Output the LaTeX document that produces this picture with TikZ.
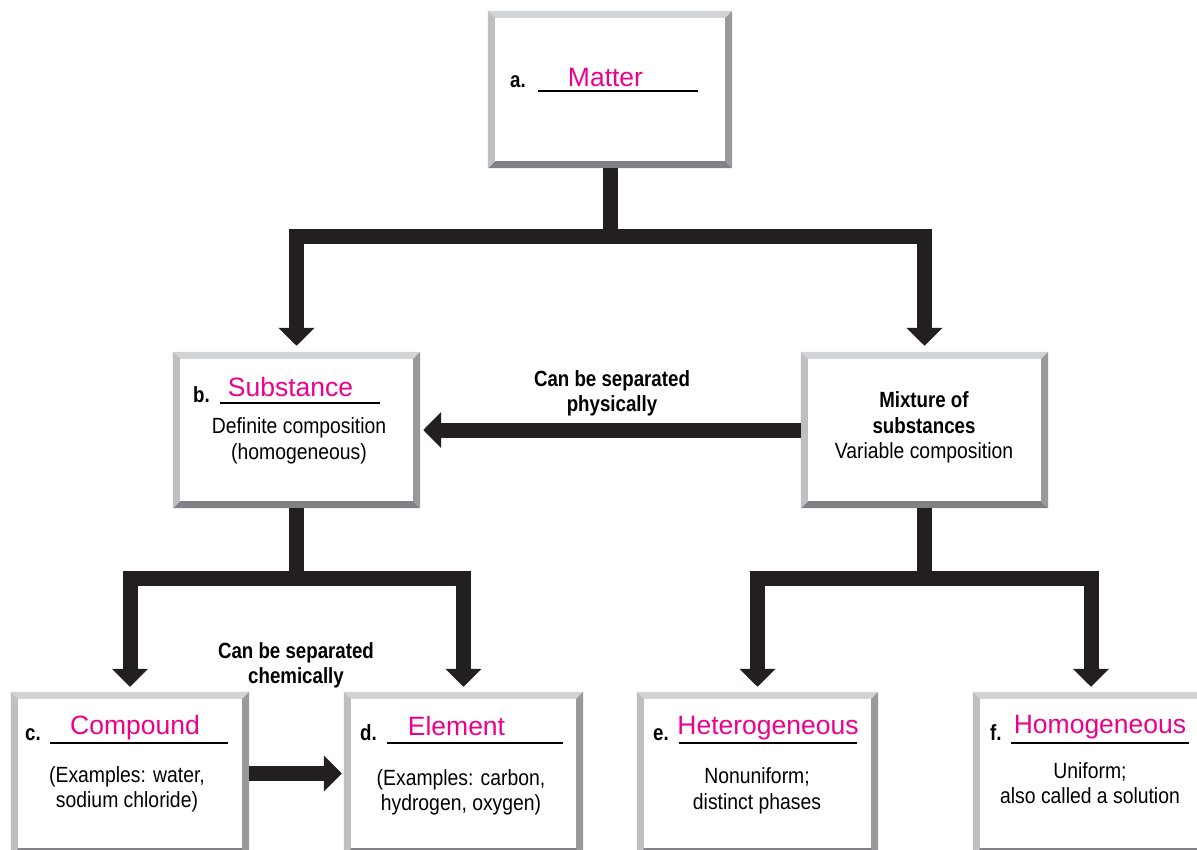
\documentclass[tikz,border=0pt]{standalone}
\usepackage{fontspec}
\newfontfamily\condf[FakeStretch=0.88, BoldFeatures={FakeStretch=0.85}]{Liberation Sans}
\newfontfamily\answf{Liberation Sans}
\usetikzlibrary{arrows.meta}

\definecolor{bevtop}{RGB}{210,211,213}
\definecolor{bevleft}{RGB}{190,191,194}
\definecolor{bevright}{RGB}{152,153,156}
\definecolor{bevbot}{RGB}{128,130,133}
\definecolor{arrowc}{RGB}{35,31,32}
\definecolor{answpink}{RGB}{236,0,140}

\tikzset{
  panel/.style={rectangle, fill=white, inner sep=0pt},
  conn/.style={line width=15pt, draw=arrowc, -{Triangle[width=35pt,length=18pt]}},
  tag/.style={font=\condf\bfseries\fontsize{22}{25.5}\selectfont, inner sep=0pt, anchor=base west},
  answer/.style={font=\answf\fontsize{26.5}{30}\selectfont, text=answpink, inner sep=0pt, anchor=base},
  body/.style={font=\condf\fontsize{22}{25.5}\selectfont, align=center, inner sep=0pt},
  note/.style={font=\condf\bfseries\fontsize{22}{25.5}\selectfont, align=center, inner sep=0pt},
  blank/.style={line width=1.8pt, draw=black}
}

\begin{document}
\begin{tikzpicture}[x=1pt, y=-1pt]
\useasboundingbox (0,0) rectangle (1197,850);
\clip (0,0) rectangle (1197,850);
\fill[white] (0,0) rectangle (1197,850);

% boxes
\node[panel, minimum width=244pt, minimum height=157pt] (matter) at (610,89.5) {};
\node[panel, minimum width=247pt, minimum height=156pt] (subst) at (296.5,430) {};
\node[panel, minimum width=247pt, minimum height=156pt] (mix) at (924.5,430) {};
\node[panel, minimum width=238pt, minimum height=163pt] (comp) at (130,773.5) {};
\node[panel, minimum width=239pt, minimum height=163pt] (elem) at (463.5,773.5) {};
\node[panel, minimum width=241pt, minimum height=163pt] (hetero) at (757.5,773.5) {};
\node[panel, minimum width=236pt, minimum height=163pt] (homo) at (1091,773.5) {};

\foreach \b in {matter,subst,mix,comp,elem,hetero,homo}{
  \fill[bevtop] (\b.north west) -- (\b.north east) -- ([shift={(-7,7)}]\b.north east) -- ([shift={(7,7)}]\b.north west) -- cycle;
  \fill[bevbot] (\b.south west) -- (\b.south east) -- ([shift={(-7,-7)}]\b.south east) -- ([shift={(7,-7)}]\b.south west) -- cycle;
  \fill[bevleft] (\b.north west) -- ([shift={(7,7)}]\b.north west) -- ([shift={(7,-7)}]\b.south west) -- (\b.south west) -- cycle;
  \fill[bevright] (\b.north east) -- ([shift={(-7,7)}]\b.north east) -- ([shift={(-7,-7)}]\b.south east) -- (\b.south east) -- cycle;
}

% connectors
\draw[conn, shorten >=6pt] (matter.south) -- ++(0,68) -| (subst.north);
\draw[conn, shorten >=6pt] (matter.south) -- ++(0,68) -| (mix.north);
\draw[conn, shorten >=5pt] (subst.south) -- ++(0,70) -| (comp.north);
\draw[conn, shorten >=5pt] (subst.south) -- ++(0,70) -| (elem.north);
\draw[conn, shorten >=5pt] (mix.south) -- ++(0,70) -| (hetero.north);
\draw[conn, shorten >=5pt] (mix.south) -- ++(0,70) -| (homo.north);
\draw[conn, shorten >=3pt] (mix.west) -- (subst.east);
\draw[conn, shorten >=2pt] (comp.east) -- (elem.west);

% matter
\node[tag] (taga) at (510,88) {a.};
\draw[blank] (538,91) -- (698,91);
\node[answer] (answa) at (605.5,87) {Matter};

% substance
\node[tag] (tagb) at (193,402) {b.};
\draw[blank] (220,403) -- (380,403);
\node[answer] (answb) at (290.5,396) {Substance};
\node[body] (bodyb) at (299,441) {Definite composition\\(homogeneous)};

% mixture
\node[body] (bodymix) at (924,427.5) {\textbf{Mixture of}\\\textbf{substances}\\Variable composition};
\node[note] (notephys) at (612,393.5) {Can be separated\\physically};

% compound, element
\node[tag] (tagc) at (25,740) {c.};
\draw[blank] (50,743) -- (228,743);
\node[answer] (answc) at (135,734) {Compound};
\node[body] (bodyc) at (127,789.5) {(Examples: water,\\sodium chloride)};

\node[tag] (tagd) at (360,740) {d.};
\draw[blank] (387,743) -- (563,743);
\node[answer] (answd) at (456.5,735) {Element};
\node[body] (bodyd) at (461,792.5) {(Examples: carbon,\\hydrogen, oxygen)};

\node[note] (notechem) at (296,665.5) {Can be separated\\chemically};

% heterogeneous, homogeneous
\node[tag] (tage) at (653,740) {e.};
\draw[blank] (679,743) -- (857,743);
\node[answer] (answe) at (768,734) {Heterogeneous};
\node[body] (bodye) at (757,791) {Nonuniform;\\distinct phases};

\node[tag] (tagf) at (990,740) {f.};
\draw[blank] (1011,743) -- (1189,743);
\node[answer] (answf) at (1100,733) {Homogeneous};
\node[body] (bodyf) at (1090,783) {Uniform;\\also called a solution};

\end{tikzpicture}
\end{document}
